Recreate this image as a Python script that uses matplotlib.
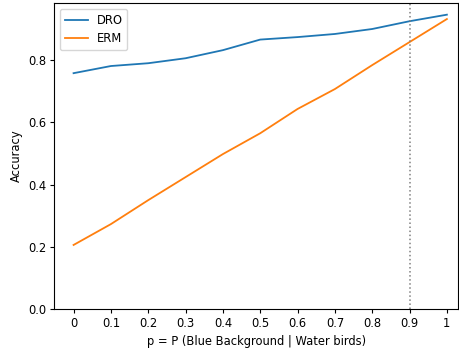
import matplotlib
matplotlib.use("Agg")
import matplotlib.pyplot as plt

p_values = [0, 0.1, 0.2, 0.3, 0.4, 0.5, 0.6, 0.7, 0.8, 0.9, 1.0]
tick_labels = ["0", "0.1", "0.2", "0.3", "0.4", "0.5", "0.6", "0.7", "0.8", "0.9", "1"]
dro_acc = [0.758, 0.781, 0.790, 0.806, 0.832, 0.866, 0.874, 0.884, 0.900, 0.925, 0.946]
erm_acc = [0.206, 0.273, 0.350, 0.424, 0.498, 0.565, 0.643, 0.707, 0.784, 0.858, 0.932]
train_p = 0.9

plt.rcParams["font.size"] = 8.3
plt.rcParams["xtick.major.size"] = 2.9
plt.rcParams["ytick.major.size"] = 2.9
plt.rcParams["xtick.major.pad"] = 2.9
plt.rcParams["ytick.major.pad"] = 2.9
plt.rcParams["axes.labelpad"] = 3.3

fig, ax = plt.subplots(figsize=(4.59, 3.52), dpi=100)
ax.plot(p_values, dro_acc, label="DRO", linewidth=1.3)
ax.plot(p_values, erm_acc, label="ERM", linewidth=1.3)
ax.axvline(train_p, color="gray", linestyle=":", linewidth=1.1)
ax.set_ylim(bottom=0)
ax.set_xlim(-0.052, 1.03)
ax.set_xticks(p_values)
ax.set_xticklabels(tick_labels)
ax.set_xlabel("p = P (Blue Background | Water birds)")
ax.set_ylabel("Accuracy")
ax.legend(loc="upper left")
fig.subplots_adjust(left=0.118, right=0.998, top=0.991, bottom=0.122)
fig.savefig("out.png", dpi=100)
plt.close(fig)
